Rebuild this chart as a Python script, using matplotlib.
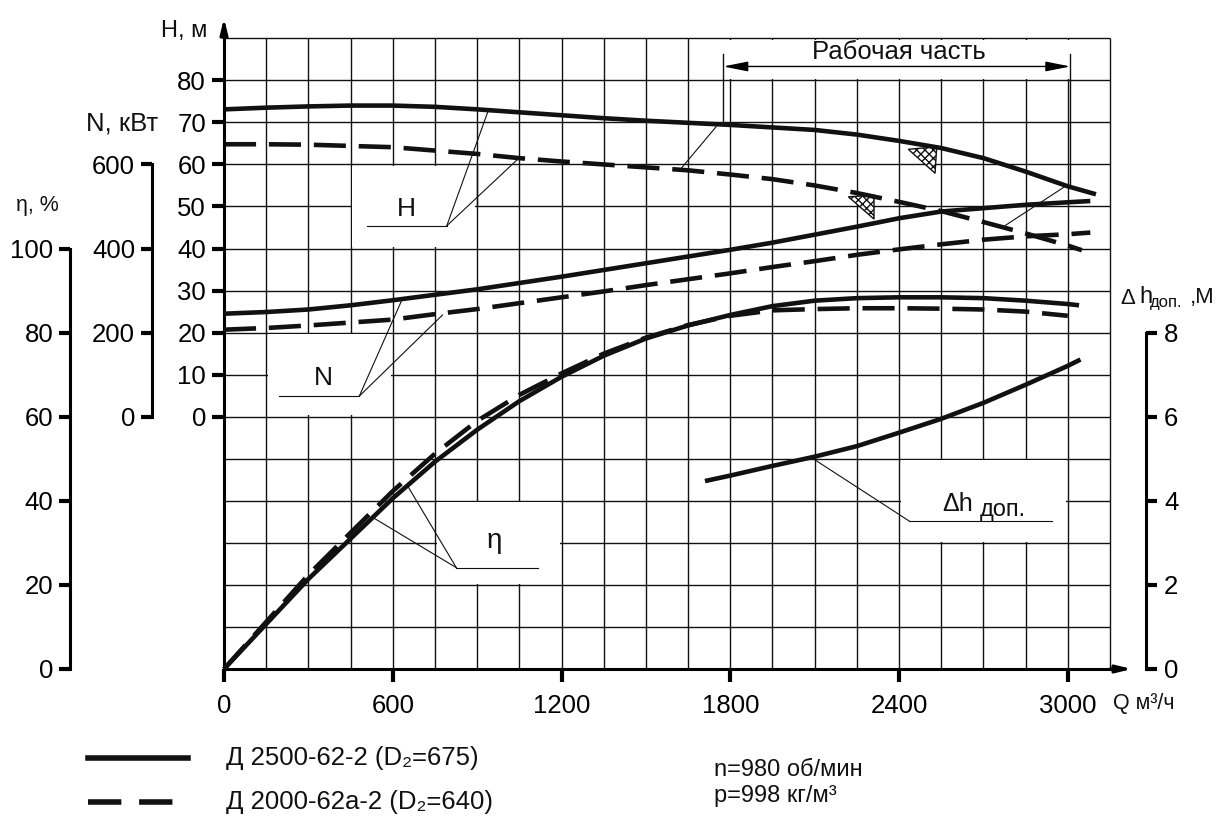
import matplotlib
matplotlib.use("Agg")
import matplotlib.pyplot as plt
from matplotlib.patches import Polygon, Rectangle
from matplotlib.lines import Line2D
import numpy as np

plt.rcParams['font.family'] = ['Liberation Sans', 'DejaVu Sans']
plt.rcParams['hatch.linewidth'] = 1.0

# ---------------- data ----------------
q_ticks = [0, 600, 1200, 1800, 2400, 3000]
h_ticks = [0, 10, 20, 30, 40, 50, 60, 70, 80]
n_ticks = [0, 200, 400, 600]
eta_ticks = [0, 20, 40, 60, 80, 100]
dh_ticks = [0, 2, 4, 6, 8]

q_main = [0, 150, 300, 450, 600, 750, 900, 1050, 1200, 1350, 1500,
          1650, 1800, 1950, 2100, 2250, 2400, 2550, 2700, 2850, 3000]

# Head H, m
q_H_solid = q_main + [3100]
H_solid = [73.1, 73.5, 73.8, 74.0, 74.0, 73.7, 73.1, 72.4, 71.7, 71.0, 70.4,
           69.9, 69.4, 68.8, 68.2, 67.1, 65.6, 63.9, 61.5, 58.3, 54.8, 52.9]
q_H_dash = q_main + [3050]
H_dash = [64.8, 64.8, 64.7, 64.4, 64.1, 63.3, 62.5, 61.5, 60.7, 60.0, 59.3,
          58.6, 57.6, 56.5, 55.0, 53.2, 51.1, 48.9, 46.3, 43.6, 40.7, 39.6]

# Power N, kW
q_N = q_main + [3080]
N_solid = [245, 249, 255, 265, 277, 290, 303, 318, 333, 349, 365,
           381, 397, 414, 433, 452, 472, 488, 496, 504, 510, 513]
N_dash = [207, 211, 217, 224, 231, 244, 256, 270, 284, 298, 313,
          327, 341, 356, 370, 385, 398, 410, 421, 429, 434, 438]

# Efficiency eta, %
q_eta_solid = q_main + [3040]
eta_solid = [0, 10.7, 21.4, 31.0, 40.6, 49.3, 56.9, 63.7, 69.5, 74.5, 78.6,
             81.7, 84.2, 86.3, 87.6, 88.2, 88.4, 88.4, 88.2, 87.6, 86.8, 86.5]
q_eta_dash = q_main
eta_dash = [0, 11.2, 22.4, 32.4, 42.3, 51.2, 59.0, 65.2, 70.3, 75.0, 78.8,
            81.8, 84.0, 85.3, 85.6, 85.8, 85.8, 85.7, 85.5, 85.0, 84.0]

# NPSH required, m
q_dh = [1710, 1800, 1950, 2100, 2250, 2400, 2550, 2700, 2850, 3000, 3045]
dh = [4.47, 4.6, 4.83, 5.05, 5.3, 5.62, 5.95, 6.33, 6.76, 7.21, 7.36]

# working range
work_q = [1775, 3009]

legend_labels = ["Д 2500-62-2 (D₂=675)", "Д 2000-62а-2 (D₂=640)"]
notes = ["n=980 об/мин", "р=998 кг/м³"]

# ---------------- layout ----------------
W, HP = 1222, 816
fig = plt.figure(figsize=(W / 100, HP / 100), dpi=100)
GX0, GX1 = 224.0, 1110.0
GY_TOP, GY_BOT = 38.3, 669.0
Q_GRID, H_TOP, H_BOT = 3150, 90, -60
sx = (GX1 - GX0) / Q_GRID
sy = (GY_BOT - GY_TOP) / (H_TOP - H_BOT)
xlim = (-GX0 / sx, Q_GRID + (W - GX1) / sx)
ylim = (H_BOT - (HP - GY_BOT) / sy, H_TOP + GY_TOP / sy)

ax = fig.add_axes([0, 0, 1, 1])
ax.set_xlim(xlim)
ax.set_ylim(ylim)
ax.patch.set_visible(False)


def twin(scale, offset):
    a = fig.add_axes([0, 0, 1, 1], sharex=ax)
    a.set_ylim(ylim[0] * scale + offset, ylim[1] * scale + offset)
    a.patch.set_visible(False)
    for s in a.spines.values():
        s.set_visible(False)
    a.tick_params(axis='x', which='both', bottom=False, top=False,
                  labelbottom=False, labeltop=False)
    return a


axN = twin(10, 0)      # N = 10*H
axE = twin(1, 60)      # eta = H + 60
axD = twin(0.1, 6)     # dh = H/10 + 6

K = '#111111'
TFS = 18.5

# grid
ax.vlines(np.arange(0, Q_GRID + 1, 150), H_BOT, H_TOP, color=K, lw=1.0, zorder=1)
ax.hlines(np.arange(H_BOT, H_TOP + 1, 10), 0, Q_GRID, color=K, lw=1.0, zorder=1)

# white label boxes
for q0, q1, h0, h1 in [(450, 900, 40, 60), (150, 600, 0, 20),
                       (750, 1200, -40, -20), (2400, 3000, -30, -10),
                       (1650, 3150, 80, 90)]:
    ax.add_patch(Rectangle((q0 + 6, h0 + 0.3), q1 - q0 - 12, h1 - h0 - 0.6,
                           facecolor='white', edgecolor='none', zorder=2))
ax.vlines([900], 50, 60, color=K, lw=1.0, zorder=2.5)

# main axes spines
for s in ['top', 'right']:
    ax.spines[s].set_visible(False)
ax.spines['left'].set_position(('data', 0))
ax.spines['left'].set_bounds(H_BOT, 92)
ax.spines['bottom'].set_position(('data', H_BOT))
ax.spines['bottom'].set_bounds(0, 3180)
for s in ['left', 'bottom']:
    ax.spines[s].set_linewidth(2.2)
    ax.spines[s].set_zorder(6)
ax.set_xticks(q_ticks)
ax.set_xticklabels([str(v) for v in q_ticks])
ax.set_yticks(h_ticks)
ax.set_yticklabels([str(v) for v in h_ticks])
ax.tick_params(axis='x', direction='out', length=9, width=3, labelsize=TFS, pad=9)
ax.tick_params(axis='y', direction='out', length=9, width=3, labelsize=TFS, pad=4)
ax.annotate('', xy=(0, 94.8), xytext=(0, 90),
            arrowprops=dict(arrowstyle='-|>,head_length=0.9,head_width=0.22',
                            lw=2.2, color='k', shrinkA=0, shrinkB=0), zorder=6)
ax.annotate('', xy=(3228, H_BOT), xytext=(3150, H_BOT),
            arrowprops=dict(arrowstyle='-|>,head_length=0.9,head_width=0.22',
                            lw=2.2, color='k', shrinkA=0, shrinkB=0), zorder=6)

# N axis
axN.spines['left'].set_visible(True)
axN.spines['left'].set_position(('axes', 151.7 / W))
axN.spines['left'].set_bounds(0, 600)
axN.spines['left'].set_linewidth(2.2)
axN.yaxis.set_ticks_position('left')
axN.set_yticks(n_ticks)
axN.set_yticklabels([str(v) for v in n_ticks])
axN.tick_params(axis='y', direction='out', length=8, width=3, labelsize=TFS, pad=4)

# eta axis
axE.spines['left'].set_visible(True)
axE.spines['left'].set_position(('axes', 70.0 / W))
axE.spines['left'].set_bounds(0, 100)
axE.spines['left'].set_linewidth(2.2)
axE.yaxis.set_ticks_position('left')
axE.set_yticks(eta_ticks)
axE.set_yticklabels([str(v) for v in eta_ticks])
axE.tick_params(axis='y', direction='out', length=8, width=3, labelsize=TFS, pad=4)

# dh axis
axD.spines['right'].set_visible(True)
axD.spines['right'].set_position(('axes', 1146.0 / W))
axD.spines['right'].set_bounds(0, 8)
axD.spines['right'].set_linewidth(2.2)
axD.yaxis.set_ticks_position('right')
axD.set_yticks(dh_ticks)
axD.set_yticklabels([str(v) for v in dh_ticks])
axD.tick_params(axis='y', direction='out', length=8, width=3, labelsize=TFS, pad=5)

# curves
LW = 3.3
DASH = (7.0, 2.8)
ax.plot(q_H_solid, H_solid, color=K, lw=LW, solid_capstyle='butt', zorder=4)
ax.plot(q_H_dash, H_dash, color=K, lw=LW, dashes=DASH, zorder=4)
axN.plot(q_N, N_solid, color=K, lw=LW, solid_capstyle='butt', zorder=4)
axN.plot(q_N, N_dash, color=K, lw=LW, dashes=DASH, zorder=4)
axE.plot(q_eta_solid, eta_solid, color=K, lw=LW, solid_capstyle='butt', zorder=4)
axE.plot(q_eta_dash, eta_dash, color=K, lw=LW, dashes=DASH, zorder=4)
axD.plot(q_dh, dh, color=K, lw=LW, solid_capstyle='butt', zorder=4)

# leader lines
TL = dict(color=K, lw=0.8, zorder=3)
ax.plot([510, 792], [45.4, 45.4], **TL)
ax.plot([792, 940], [45.4, 72.9], **TL)
ax.plot([792, 1050], [45.4, 61.6], **TL)
ax.plot([1750, 1621], [69.0, 58.7], **TL)
ax.plot([2991, 2778], [54.8, 45.5], **TL)
axN.plot([197, 481], [49, 49], **TL)
axN.plot([481, 630], [49, 274], **TL)
axN.plot([481, 777], [49, 242], **TL)
axE.plot([826, 1116], [24.1, 24.1], **TL)
axE.plot([826, 525], [24.1, 36.2], **TL)
axE.plot([826, 655], [24.1, 43.3], **TL)
axD.plot([2436, 2944], [3.52, 3.52], **TL)
axD.plot([2436, 2088], [3.52, 5.03], **TL)

# hatched triangles
for pts in [[(2433, 63.6), (2534, 64.2), (2528, 57.9)],
            [(2220, 52.3), (2311, 52.7), (2311, 47.0)]]:
    ax.add_patch(Polygon(pts, closed=True, facecolor='white', edgecolor=K,
                         hatch='xxxx', lw=1.0, zorder=3.5))

# working range bracket
ax.plot([work_q[0], work_q[0]], [86.2, 69.4], color=K, lw=1.0, zorder=3)
ax.plot([work_q[1], work_q[1]], [86.2, 54.6], color=K, lw=1.0, zorder=3)
ax.annotate('', xy=(work_q[0], 83.3), xytext=(work_q[1], 83.3),
            arrowprops=dict(arrowstyle='<|-|>,head_length=1.5,head_width=0.3',
                            lw=1.0, color='k', shrinkA=0, shrinkB=0), zorder=3)
ax.text(2400, 86.7, 'Рабочая часть', fontsize=TFS, ha='center', va='center',
        color=K, zorder=5)

# curve labels
ax.text(650, 49.4, 'H', fontsize=19, ha='center', va='center', color=K, zorder=5)
ax.text(354, 9.1, 'N', fontsize=19, ha='center', va='center', color=K, zorder=5)
axE.text(962, 30.5, 'η', fontsize=20, ha='center', va='center', color=K, zorder=5)
axD.text(2553, 3.93, 'Δh', fontsize=18, ha='left', va='center', color=K, zorder=5)
axD.text(2686, 3.78, 'доп.', fontsize=17, ha='left', va='center', color=K, zorder=5)


# axis titles (pixel placed)
def ftext(x, y, s, **kw):
    fig.text(x / W, 1 - y / HP, s, color=K, **kw)


ftext(207, 31, 'H, м', fontsize=17, ha='right', va='center')
ftext(158, 124, 'N, кВт', fontsize=TFS, ha='right', va='center')
ftext(16, 206, 'η, %', fontsize=15.5, ha='left', va='center')
ftext(1120, 298, 'Δ', fontsize=16, ha='left', va='center')
ftext(1139, 297, 'h', fontsize=17, ha='left', va='center')
ftext(1150, 303, 'доп.', fontsize=12, ha='left', va='center')
ftext(1190, 298, ',М', fontsize=16, ha='left', va='center')
ftext(1113, 703, 'Q м³/ч', fontsize=15.5, ha='left', va='center')

# legend
fig.add_artist(Line2D([88 / W, 188 / W], [1 - 758 / HP] * 2, color=K, lw=4.0))
fig.add_artist(Line2D([88 / W, 188 / W], [1 - 802 / HP] * 2, color=K, lw=4.0,
                      dashes=(6.0, 3.2)))
ftext(226, 758, legend_labels[0], fontsize=TFS, ha='left', va='center')
ftext(226, 802, legend_labels[1], fontsize=TFS, ha='left', va='center')
ftext(714, 770, notes[0], fontsize=17, ha='left', va='center')
ftext(714, 796, notes[1], fontsize=17, ha='left', va='center')

fig.savefig('out.png', dpi=100, facecolor='white')
